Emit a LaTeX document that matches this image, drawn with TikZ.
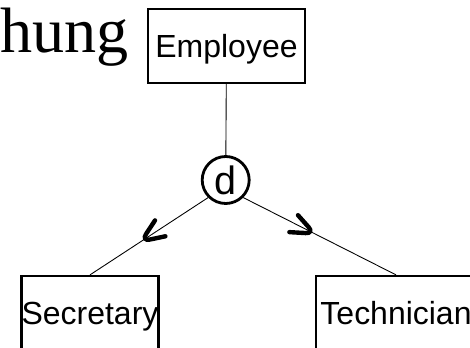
\documentclass[tikz,border=0pt]{standalone}
\usepackage{fontspec}
\setmainfont{Liberation Serif}
\setsansfont{Liberation Sans}
\usetikzlibrary{decorations.markings}

\begin{document}
\begin{tikzpicture}[x=0.02cm,y=0.02cm,
  entity/.style={draw,line width=1.3pt,inner sep=0pt,minimum height=1.48cm,
    font=\sffamily\fontsize{18.2}{21}\selectfont,text height=13pt,text depth=0pt},
  disjoint/.style={draw,circle,line width=1.6pt,inner sep=0pt,minimum size=0.94cm,
    font=\sffamily\fontsize{22.5}{25}\selectfont},
  link/.style={line width=0.5pt},
  subset/.style={line width=2.5pt,line cap=round,rounded corners=5pt}]

%Define subset marks
\def\subsetmark{\draw[subset] (-22,-10) -- (1,0) -- (-22,9);}
\def\secpos{0.56}       %Position of mark on Secretary link.
\def\techpos{0.46}      %Position of mark on Technician link.

\useasboundingbox (0,0) rectangle (470,-348);

% Title fragment
\node[anchor=base west,inner sep=0pt,font=\fontsize{36.5}{40}\selectfont] (hung) at (0,-53) {hung};

% Entities
\node[entity,minimum width=3.14cm] (emp) at (226.5,-46) {Employee};
\node[entity,minimum width=2.72cm] (sec) at (90,-313) {Secretary};
\node[entity,minimum width=3.2cm] (tech) at (396,-313) {Technician};

% Disjoint circle
\node[disjoint] (d) at (225.7,-180) {d};

% Links
\draw[link] (emp) -- (d);
\draw[link,postaction={decorate,decoration={markings,
  mark=at position \secpos with {\subsetmark}}}] (d.225) -- (sec.north);
\draw[link,postaction={decorate,decoration={markings,
  mark=at position \techpos with {\subsetmark}}}] (d.-45) -- (tech.north);

\end{tikzpicture}
\end{document}
